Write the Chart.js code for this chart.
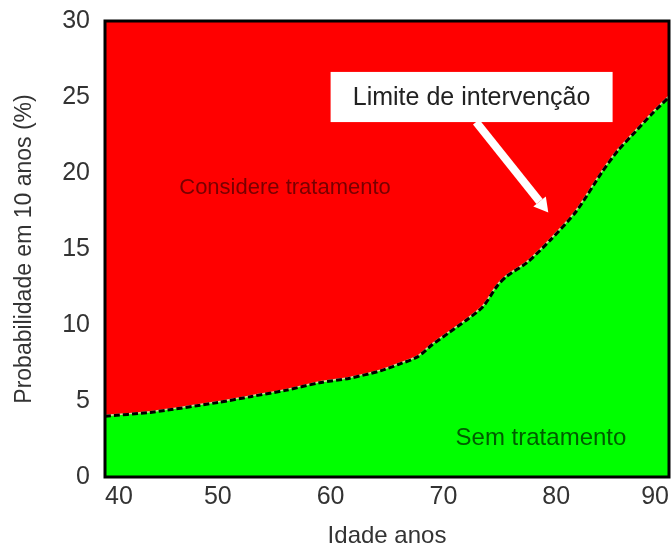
<!DOCTYPE html>
<html>
<head>
<meta charset="utf-8">
<script src="https://cdn.jsdelivr.net/npm/chart.js@4"></script>
<style>
html,body{margin:0;padding:0;background:#fff;}
#wrap{width:672px;height:551px;}
</style>
</head>
<body>
<div id="wrap"><canvas id="c" width="672" height="551"></canvas></div>
<script>
// Age (years) along the intervention threshold curve
const ages = [40, 44, 50, 53, 56, 59, 61.7, 64.5, 66, 67.7, 69, 70.5, 72, 73.5, 74.8, 75.6, 77.4, 79.5, 81.8, 84.1, 85.5, 87, 88.5, 90];
// 10-year probability (%) at the threshold
const risk = [4.0, 4.25, 4.9, 5.3, 5.7, 6.2, 6.5, 7.0, 7.4, 7.9, 8.7, 9.5, 10.3, 11.2, 12.6, 13.2, 14.1, 15.6, 17.5, 20.1, 21.5, 22.7, 23.9, 25.0];
const xTicks = [40, 50, 60, 70, 80, 90];
const yTicks = [0, 5, 10, 15, 20, 25, 30];
const labels = {
  treat: 'Considere tratamento',
  noTreat: 'Sem tratamento',
  limit: 'Limite de intervenção',
  xTitle: 'Idade anos',
  yTitle: 'Probabilidade em 10 anos (%)'
};

const pts = ages.map((a, i) => ({x: a, y: risk[i]}));
const FONT = "'Liberation Sans', Arial, Helvetica, sans-serif";

const decor = {
  id: 'decor',
  beforeDatasetsDraw(chart) {
    const {ctx, chartArea: a} = chart;
    ctx.save();
    ctx.fillStyle = '#ff0000';
    ctx.fillRect(a.left, a.top, a.right - a.left, a.bottom - a.top);
    ctx.restore();
  },
  afterDatasetsDraw(chart) {
    const {ctx, chartArea: a, scales} = chart;
    ctx.save();
    // frame
    ctx.strokeStyle = '#000';
    ctx.lineWidth = 3;
    ctx.strokeRect(a.left, a.top, a.right - a.left, a.bottom - a.top);
    // region texts
    ctx.textAlign = 'center';
    ctx.textBaseline = 'middle';
    ctx.font = '22px ' + FONT;
    ctx.fillStyle = '#780000';
    ctx.fillText(labels.treat, scales.x.getPixelForValue(55.96), scales.y.getPixelForValue(19.0));
    ctx.font = '24px ' + FONT;
    ctx.fillStyle = '#005c00';
    ctx.fillText(labels.noTreat, scales.x.getPixelForValue(78.65), scales.y.getPixelForValue(2.57));
    // label box
    const bx0 = scales.x.getPixelForValue(60.0), bx1 = scales.x.getPixelForValue(85.0);
    const by0 = scales.y.getPixelForValue(26.65), by1 = scales.y.getPixelForValue(23.35);
    ctx.fillStyle = '#ffffff';
    ctx.fillRect(bx0, by0, bx1 - bx0, by1 - by0);
    ctx.fillStyle = '#222';
    ctx.font = '25px ' + FONT;
    ctx.fillText(labels.limit, (bx0 + bx1) / 2, (by0 + by1) / 2 + 1);
    // arrow
    const x0 = scales.x.getPixelForValue(72.9), y0 = by1;
    const x1 = scales.x.getPixelForValue(79.3), y1 = scales.y.getPixelForValue(17.4);
    const ang = Math.atan2(y1 - y0, x1 - x0);
    const head = 14, hw = 8;
    const bxh = x1 - head * Math.cos(ang), byh = y1 - head * Math.sin(ang);
    ctx.strokeStyle = '#ffffff';
    ctx.lineWidth = 8;
    ctx.beginPath();
    ctx.moveTo(x0, y0);
    ctx.lineTo(bxh, byh);
    ctx.stroke();
    ctx.fillStyle = '#ffffff';
    ctx.beginPath();
    ctx.moveTo(x1, y1);
    ctx.lineTo(bxh + hw * Math.sin(ang), byh - hw * Math.cos(ang));
    ctx.lineTo(bxh - hw * Math.sin(ang), byh + hw * Math.cos(ang));
    ctx.closePath();
    ctx.fill();
    ctx.restore();
  }
};

new Chart(document.getElementById('c'), {
  type: 'line',
  data: {
    datasets: [
      {
        data: pts,
        borderColor: '#000000',
        borderWidth: 3,
        borderDash: [6, 3],
        backgroundColor: '#00ff00',
        fill: 'origin',
        pointRadius: 0,
        tension: 0.25,
        order: 1
      },
      {
        data: pts,
        borderColor: '#d8d49a',
        borderWidth: 3,
        fill: false,
        pointRadius: 0,
        tension: 0.25,
        order: 2
      }
    ]
  },
  plugins: [decor],
  options: {
    responsive: false,
    animation: false,
    layout: {padding: {left: 0, right: 3, top: 21, bottom: 0}},
    plugins: {legend: {display: false}, tooltip: {enabled: false}},
    scales: {
      x: {
        type: 'linear', min: 40, max: 90,
        afterBuildTicks: s => { s.ticks = xTicks.map(v => ({value: v})); },
        afterFit: s => { s.height = 74; s.paddingLeft = 0; s.paddingRight = 0; },
        grid: {display: false, drawTicks: false},
        border: {display: false},
        ticks: {color: '#333', font: {family: FONT, size: 25}, padding: 5, align: 'inner', maxRotation: 0},
        title: {display: true, text: labels.xTitle, color: '#333', font: {family: FONT, size: 24}, padding: {top: 0, bottom: 0}}
      },
      y: {
        min: 0, max: 30,
        afterBuildTicks: s => { s.ticks = yTicks.map(v => ({value: v})); },
        afterFit: s => { s.width = 105; s.paddingTop = 0; s.paddingBottom = 0; },
        grid: {display: false, drawTicks: false},
        border: {display: false},
        ticks: {color: '#333', font: {family: FONT, size: 25}, padding: 15},
        title: {display: true, text: labels.yTitle, color: '#333', font: {family: FONT, size: 23}, padding: {top: 11, bottom: 0}}
      }
    }
  }
});
</script>
</body>
</html>
